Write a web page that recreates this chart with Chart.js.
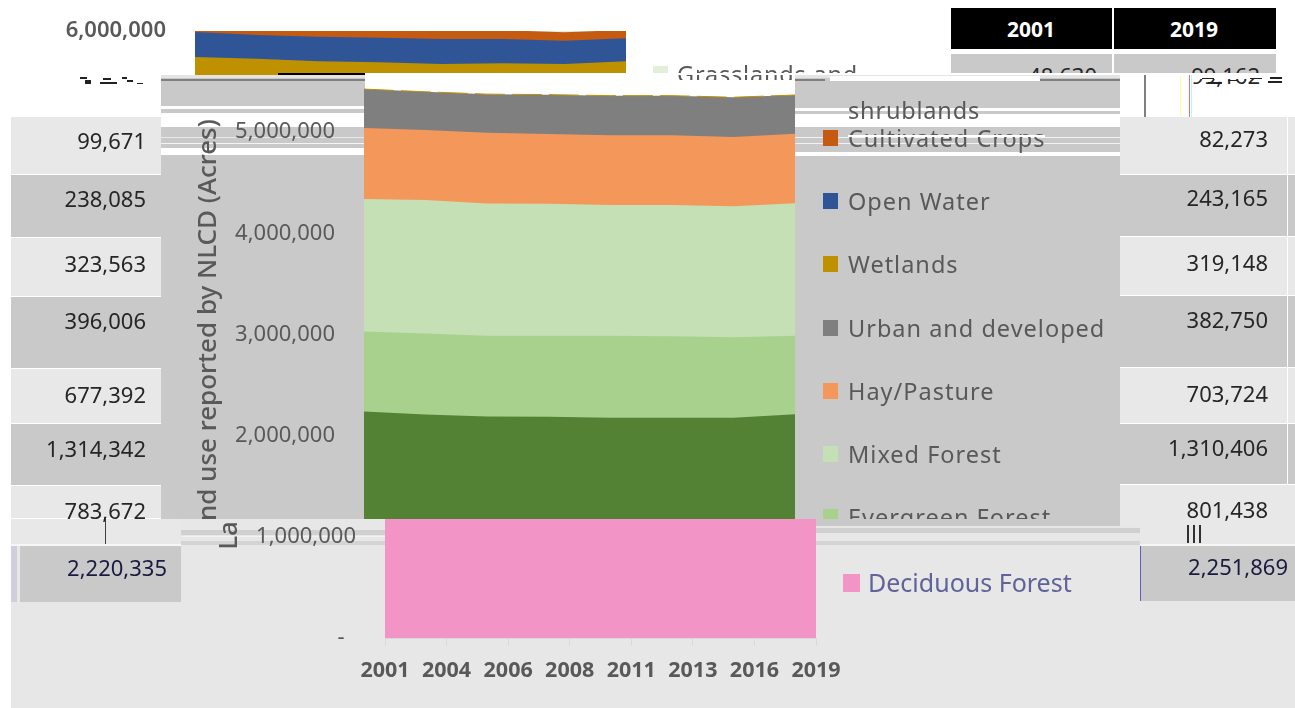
<!DOCTYPE html>
<html><head><meta charset="utf-8">
<script src="https://cdn.jsdelivr.net/npm/chart.js@4"></script>
<style>
html,body{margin:0;padding:0;background:#fff;width:1295px;height:708px;overflow:hidden}
#stage{position:relative;width:1295px;height:708px;overflow:hidden;font-family:"Noto Sans",sans-serif}
#stage>div,.band>canvas{position:absolute}
.band{overflow:hidden}
.t{white-space:nowrap;height:40px;line-height:40px}
</style></head><body><div id="stage"></div>
<script>
const years=['2001','2004','2006','2008','2011','2013','2016','2019'];
const deciduous=[2240000,2210000,2190000,2188000,2178000,2178000,2178000,2211000];
const evergreen=[790800,800700,796700,800700,810500,804600,794700,777000];
const mixed=[1307800,1317700,1308700,1304800,1292000,1297900,1294900,1308700];
const hay=[701800,691900,697900,689000,689000,689000,685000,688000];
const urban=[385500,378600,382500,388500,391400,391400,392400,382500];
const wetlands=[316300,326200,326200,320300,313300,320300,329200,333100];
const openWater=[247100,234300,240200,243200,247100,240200,230300,227400];
const crops=[99671,96000,94000,91000,88000,86000,84000,82273];
const grass=[48630,55000,62000,70000,78000,85000,92000,99162];
const seriesNames=['Deciduous Forest','Evergreen Forest','Mixed Forest','Hay/Pasture','Urban and developed','Wetlands','Open Water','Cultivated Crops','Grasslands and shrublands'];
const seriesValues=[deciduous,evergreen,mixed,hay,urban,wetlands,openWater,crops,grass];
const seriesColors=['#548235','#a9d18e','#c5e0b4','#f4975a','#7f7f7f','#bf9000','#2f5597','#c55a11','#e2f0d9'];
const tableHead=['2001','2019'];
const table2001=[48630,99671,238085,323563,396006,677392,1314342,783672,2220335];
const table2019=[99162,82273,243165,319148,382750,703724,1310406,801438,2251869];
const fmt=n=>n.toLocaleString('en-US');

const stage=document.getElementById('stage');
function rect(x,y,w,h,c){const d=document.createElement('div');d.style.cssText=`left:${x}px;top:${y}px;width:${w}px;height:${h}px;background:${c}`;stage.appendChild(d);return d;}
function text(s,x,cy,size,color,o={}){const d=document.createElement('div');d.className='t';d.textContent=s;
 d.style.cssText=`top:${cy-20}px;font-size:${size}px;color:${color};font-weight:${o.w||400};letter-spacing:${o.ls||0}px;`+(o.right?`right:${1295-x}px;`:`left:${x}px;`)+(o.center?'transform:translateX(-50%);':'')+(o.f?`font-family:${o.f};`:'');
 if(o.clip)d.style.clipPath=`inset(0 0 ${o.clip}px 0)`;stage.appendChild(d);return d;}
const L='#e8e8e8',G='#c9c9c9',NARROW='"Liberation Sans Narrow","Noto Sans",sans-serif';

function band(y,h,dx,palette,fontW,mutate){
 const wrap=document.createElement('div');wrap.className='band';
 wrap.style.cssText=`left:0;top:${y}px;width:1295px;height:${h}px`;
 const cv=document.createElement('canvas');cv.width=1295;cv.height=708;
 cv.style.cssText=`left:${dx}px;top:${-y}px;width:1295px;height:708px`;
 wrap.appendChild(cv);stage.appendChild(wrap);
 new Chart(cv,{type:'line',data:{labels:years,datasets:seriesNames.map((n,i)=>mutate({label:n,data:seriesValues[i],backgroundColor:palette[i],borderWidth:0,pointRadius:0,fill:'origin',tension:0,stack:'a'},i))},
 options:{responsive:false,animation:false,devicePixelRatio:1,
  layout:{autoPadding:false,padding:{left:193,right:500,top:31,bottom:0}},
  plugins:{legend:{display:false},tooltip:{enabled:false}},
  scales:{
   x:{offset:false,afterFit:a=>{a.height=70},border:{color:'#d9d9d9'},grid:{drawOnChartArea:false,color:'#d9d9d9',tickLength:8},
      ticks:{color:'#595959',font:{family:'Noto Sans',size:21.5,weight:'700'},maxRotation:0,autoSkip:false,padding:12}},
   y:{stacked:true,min:0,max:6000000,afterFit:a=>{a.width=171;a.paddingTop=0;a.paddingBottom=0},border:{display:false},grid:{display:false,drawTicks:false},
      title:{display:true,text:'Land use reported by NLCD (Acres)',color:'#595959',font:{family:'Noto Sans',size:26,weight:'500'},padding:0},
      ticks:{stepSize:1000000,padding:29,color:'#595959',font:{family:'Noto Sans',size:22,weight:fontW},callback:v=>v===0?'-  ':fmt(v)}}
  }}});
}

/* top layer */
rect(951,8,161,41,'#000');rect(1114,8,162,41,'#000');
text(tableHead[0],1031,29,21,'#fff',{w:700,center:true});
text(tableHead[1],1194,29,21,'#fff',{w:700,center:true});
rect(951,54,161,21,G);rect(1114,54,162,21,G);
text(fmt(table2001[0]),1097,75,22,'#262626',{right:true,f:NARROW});
text(fmt(table2019[0]),1260,75,22,'#262626',{right:true,f:NARROW});
band(0,75,-169,seriesColors,'600',d=>d);
rect(653,66,15,8,'#e2f0d9');
text('Grasslands and',677,74,23.5,'#595959',{ls:.8,clip:14});
rect(365,73,586,2,'#fff');rect(951,73,344,6,'#fff');
rect(278,73,87,2,'#000');

/* middle layer */
rect(161,75,204,444,G);rect(795,75,325,451,G);
[[75,3,'#e4e4e4'],[79,2,'#7f7f7f'],[106,3,'#fff'],[113,14,'#fff'],[148,7,'#fff'],[137,1,'#e8e8e8'],[143,1,'#f4f4f4']].forEach(s=>rect(161,s[0],204,s[1],s[2]));
[[75,3,'#e4e4e4'],[108,3,'#fff'],[114,13,'#fff'],[152,4,'#fff'],[137,1,'#f2f2f2'],[143,1,'#f2f2f2']].forEach(s=>rect(795,s[0],325,s[1],s[2]));
rect(795,79,30,2,'#7f7f7f');rect(1035,79,85,2,'#7f7f7f');
rect(830,76,210,5,'#fff');
rect(1144,75,2,42,'#808080');rect(1180,75,1,42,'#ffff99');rect(1189,75,1,42,'#f07070');rect(1191,75,1,42,'#a0ffff');
[[80,77,7,2],[85,80,6,4],[100,82,17,2],[103,78,8,2],[122,77,5,2],[127,80,6,2],[137,83,6,1],[1202,78,12,1],[1208,82,14,2],[1228,80,10,1],[1250,78,12,1],[1270,77,12,2],[1268,81,14,2]].forEach(s=>rect(s[0],s[1],s[2],s[3],'#222'));
band(75,444,0,seriesColors,'400',(d,i)=>{
 if(i>4)d.backgroundColor='rgba(0,0,0,0)';
 if(i===4){d.borderWidth=1;d.borderColor='#bf9000';d.borderDash=[30,7];}
 return d;});

/* table rows */
const leftRows=[[117,58,L],[175,63,G],[238,59,L],[297,72,G],[369,55,L],[424,62,G],[486,33,L]];
const rightRows=[[117,58,L],[175,62,G],[237,59,L],[296,72,G],[368,56,L],[424,61,G],[485,41,L]];
leftRows.forEach(r=>rect(11,r[0],150,r[1]-1,r[2]));
rightRows.forEach(r=>{rect(1120,r[0],167,r[1]-1,r[2]);rect(1288,r[0],7,r[1]-1,r[2]);});

/* legend, middle layer */
const legendY=[null,517,454,391,328,264,201,138];
const legendColors=['','#a9d18e','#c5e0b4','#f4975a','#7f7f7f','#bf9000','#2f5597','#c55a11'];
const legendNames=['','Evergreen Forest ...','Mixed Forest','Hay/Pasture','Urban and developed','Wetlands','Open Water','Cultivated Crops'];
for(let i=1;i<8;i++){rect(823,legendY[i]-8,15,16,legendColors[i]);text(legendNames[i],848,legendY[i],23.5,'#595959',{ls:1,clip:i===1?11:0});}
text('shrublands',848,110,23.5,'#595959',{ls:.8});
rect(848,135,197,2,'#fff');

/* bottom layer */
rect(11,519,1284,189,'#e7e7e7');
rect(0,519,11,189,'#fff');
rect(795,519,325,7,G);rect(1120,485,175,41,L);
[[530,5,'#d0d0d0'],[541,4,'#d4d4d4'],[536,1,'#f2f2f2']].forEach(s=>rect(181,s[0],204,s[1],s[2]));
[[528,5,'#d0d0d0'],[541,4,'#d4d4d4']].forEach(s=>rect(815,s[0],325,s[1],s[2]));
rect(11,519,170,25,L);rect(11,544,170,2,'#f6f6f6');
rect(1140,526,155,18,L);rect(1140,544,155,2,'#f6f6f6');
rect(20,546,161,56,G);rect(11,546,6,56,'#cfcfdc');
rect(1140,546,155,55,G);rect(1140,546,1,55,'#5a5fc0');
rect(105,519,1,25,'#404040');
rect(1187,525,2,18,'#303030');rect(1193,525,2,18,'#303030');rect(1199,525,2,18,'#303030');
const palPink=seriesColors.slice();palPink[0]='#f295c6';
band(519,189,21,palPink,'400',d=>d);
rect(843,574,17,18,'#f295c6');
text(seriesNames[0],868,582,25,'#5f6398');

/* table numbers */
const leftY=[null,140,198,263,320,394,448,510,567];
const rightY=[null,138,197,262,319,393,447,509,566];
for(let i=1;i<9;i++){
 text(fmt(table2001[i]),i===8?167:146,leftY[i],22,i===8?'#1a1a40':'#262626',{right:true,f:NARROW});
 text(fmt(table2019[i]),i===8?1288:1268,rightY[i],22,i===8?'#1a1a40':'#262626',{right:true,f:NARROW});
}
</script></body></html>
